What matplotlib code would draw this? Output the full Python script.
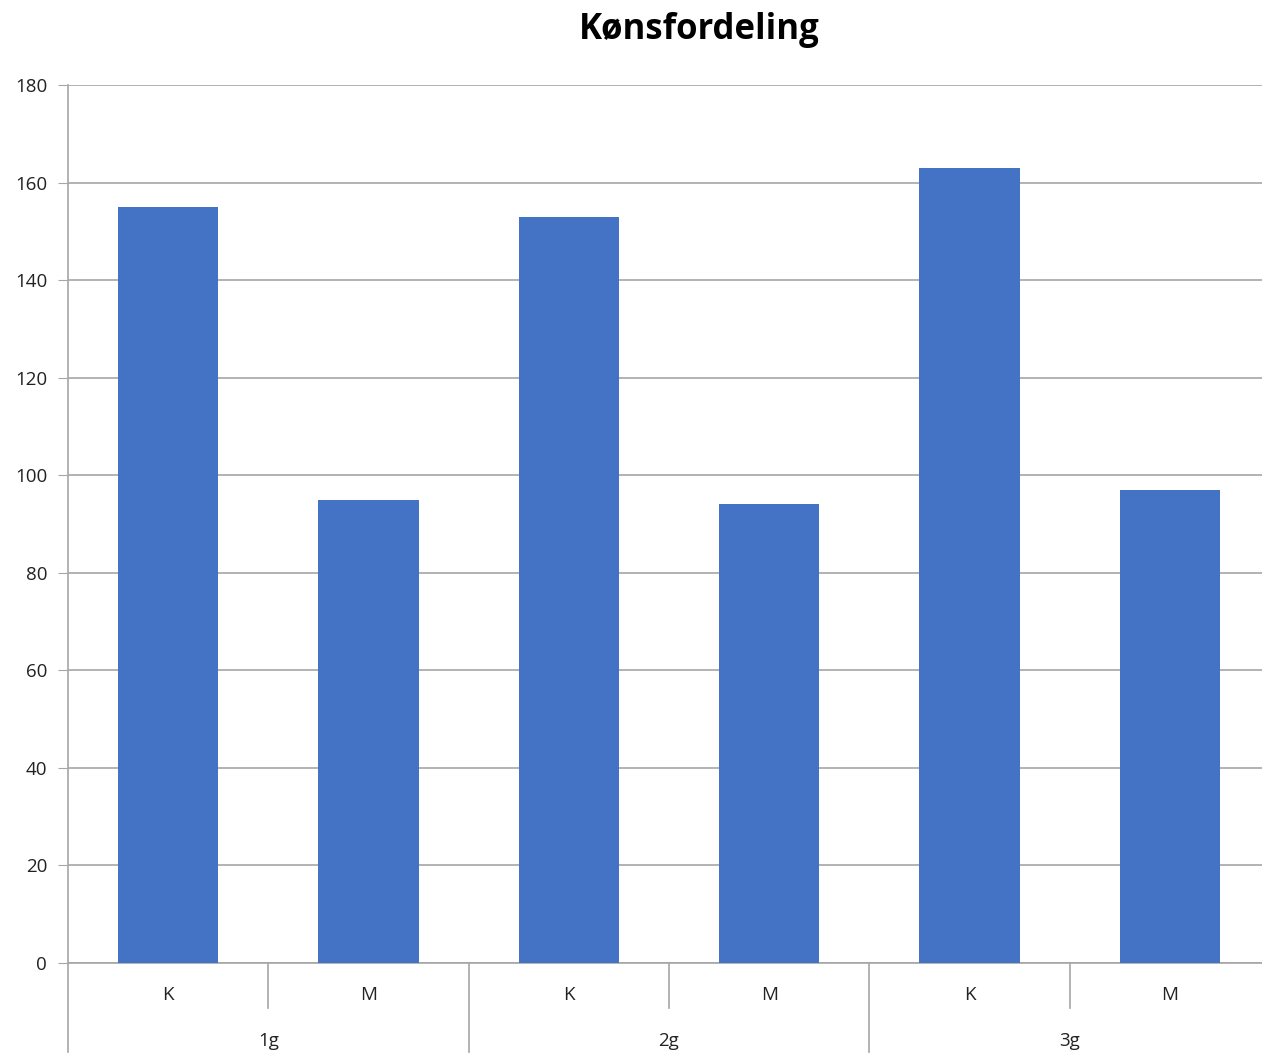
import matplotlib.pyplot as plt
import matplotlib.transforms as mtransforms

groups = ['1g', '2g', '3g']
genders = ['K', 'M']
values = [155, 95, 153, 94, 163, 97]

plt.rcParams['font.family'] = ['Open Sans', 'DejaVu Sans']

fig = plt.figure(figsize=(12.62, 10.55), dpi=100)
ax = fig.add_axes([68 / 1262, 1 - 963 / 1055, (1270 - 68) / 1262, (963 - 85) / 1055])

labels = [g for _ in groups for g in genders]
x = list(range(len(labels)))
ax.bar(x, values, width=0.5, color='#4472C4', zorder=3)

ax.set_xlim(-0.5, len(labels) - 0.5)
ax.set_ylim(0, 180)
ax.set_yticks(range(0, 181, 20))
ax.grid(axis='y', color='#A6A6A6', linewidth=1.2, zorder=0)
ax.tick_params(axis='y', length=7, color='#A6A6A6', labelsize=13.5, pad=8, labelcolor='#222222')
ax.tick_params(axis='x', length=0)
ax.set_xticks([])

for s in ['top', 'right']:
    ax.spines[s].set_visible(False)
ax.spines['left'].set_color('#A6A6A6')
ax.spines['bottom'].set_color('#A6A6A6')
ax.spines['left'].set_linewidth(1.2)
ax.spines['bottom'].set_linewidth(1.2)

# two-level category axis
trans = mtransforms.blended_transform_factory(ax.transData, fig.transFigure)
y0 = 1 - 963 / 1055
y_inner = 1 - 1008 / 1055
y_outer = 1 - 1052 / 1055
for i, lab in enumerate(labels):
    fig.text(i, 1 - 995 / 1055, lab, transform=trans, ha='center', va='center',
             fontsize=13.5, color='#222222')
for j, g in enumerate(groups):
    fig.text(j * 2 + 0.5, 1 - 1041 / 1055, g, transform=trans, ha='center', va='center',
             fontsize=13.5, color='#222222')
    ax.plot([j * 2 + 0.5] * 2, [y0, y_inner], transform=trans, color='#A6A6A6',
            linewidth=1.2, clip_on=False)
    ax.plot([j * 2 - 0.5] * 2, [y0, y_outer], transform=trans, color='#A6A6A6',
            linewidth=1.2, clip_on=False)

fig.text(0.554, 1 - 30 / 1055, 'Kønsfordeling', ha='center', va='center',
         fontsize=25, fontweight='bold', color='black')

fig.savefig('out.png', dpi=100)
